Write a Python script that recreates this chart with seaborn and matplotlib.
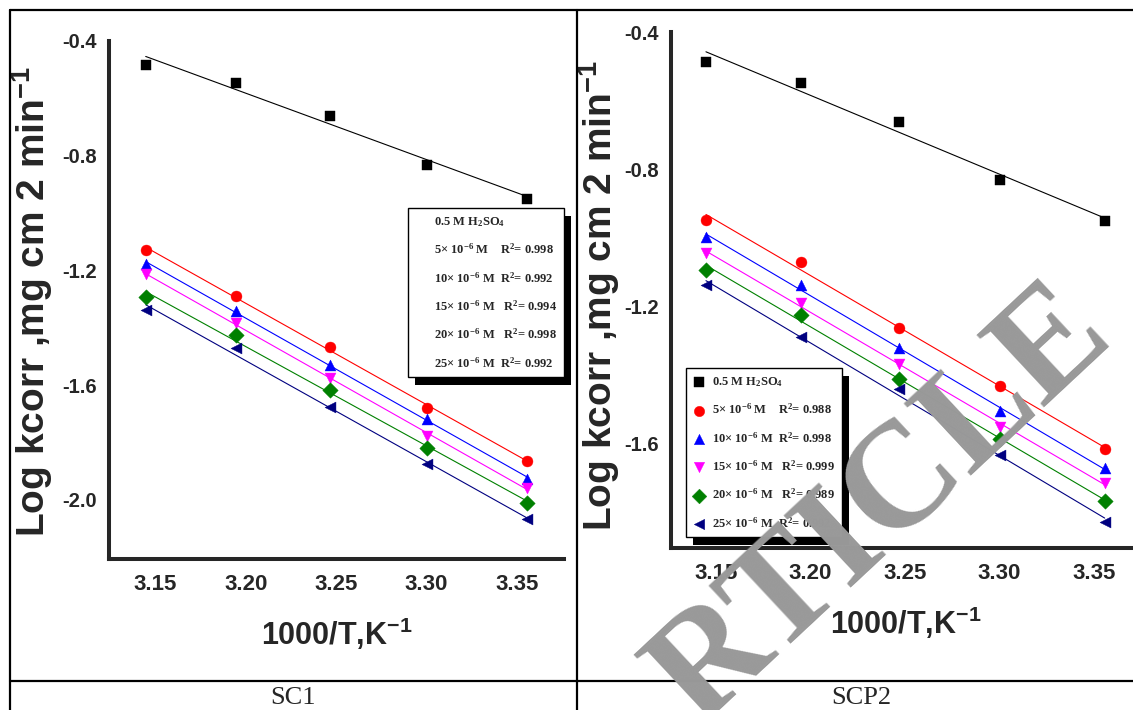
import matplotlib
matplotlib.use("Agg")
import matplotlib.pyplot as plt
import seaborn as sns
from matplotlib import font_manager
from matplotlib.lines import Line2D
from matplotlib.patches import Rectangle
from matplotlib.ticker import AutoMinorLocator

# 1000/T for 318, 313, 308, 303, 298 K
inv_t = [3.1447, 3.1949, 3.2468, 3.3003, 3.3557]

# SC1 panel, log kcorr
sc1_blank = [-0.483, -0.546, -0.661, -0.831, -0.950]
sc1_5 = [-1.127, -1.290, -1.468, -1.680, -1.864]
sc1_10 = [-1.176, -1.343, -1.530, -1.718, -1.927]
sc1_15 = [-1.214, -1.384, -1.575, -1.777, -1.958]
sc1_20 = [-1.294, -1.426, -1.617, -1.819, -2.010]
sc1_25 = [-1.339, -1.471, -1.676, -1.875, -2.066]

# SCP2 panel, log kcorr
scp2_blank = [-0.487, -0.549, -0.662, -0.831, -0.950]
scp2_5 = [-0.948, -1.070, -1.262, -1.431, -1.615]
scp2_10 = [-0.997, -1.137, -1.320, -1.504, -1.670]
scp2_15 = [-1.044, -1.189, -1.367, -1.550, -1.714]
scp2_20 = [-1.093, -1.224, -1.410, -1.585, -1.766]
scp2_25 = [-1.136, -1.287, -1.440, -1.632, -1.827]

conc = ["5", "10", "15", "20", "25"]
sc1_r2 = ["0.998", "0.992", "0.994", "0.998", "0.992"]
scp2_r2 = ["0.988", "0.998", "0.999", "0.989", "0.992"]
gaps = ["   ", " ", "  ", "  ", " "]

colors = ["black", "#FF0000", "#0000FF", "#FF00FF", "#008000", "#000080"]
markers = ["s", "o", "^", "v", "D", "<"]

sns.set_style("white")
names = {f.name for f in font_manager.fontManager.ttflist}
narrow = "Liberation Sans Narrow" if "Liberation Sans Narrow" in names else "Liberation Sans"
plt.rcParams["font.family"] = [narrow, "DejaVu Sans"]
plt.rcParams["font.weight"] = "bold"
plt.rcParams["mathtext.default"] = "regular"
plt.rcParams["axes.unicode_minus"] = False

fig = plt.figure(figsize=(11.33, 7.10), dpi=100)


def make_labels(r2):
    labs = ["0.5 M H$_2$SO$_4$"]
    for c, g, r in zip(conc, gaps, r2):
        labs.append(f"{c}\u00d7 10$^{{-6}}$ M{g} R$^{{2}}$= {r}")
    return labs


def draw_panel(ax, series, labels, ylim, yticks):
    for y, lab, col, mk in zip(series, labels, colors, markers):
        sns.regplot(x=inv_t, y=y, ax=ax, scatter=False, ci=None, color=col,
                    line_kws={"lw": 0.8})
        sns.scatterplot(x=inv_t, y=y, ax=ax, color=col, marker=mk, s=62,
                        edgecolor=col, linewidth=0.3, label=lab, zorder=3)
    ax.set_ylim(*ylim)
    ax.set_xticks([3.15, 3.20, 3.25, 3.30, 3.35])
    ax.set_yticks(yticks)
    ax.xaxis.set_minor_locator(AutoMinorLocator(2))
    ax.yaxis.set_minor_locator(AutoMinorLocator(2))
    ax.tick_params(which="major", direction="out", length=5, width=2.2, pad=6)
    ax.tick_params(which="minor", direction="out", length=1.8, width=2.2)
    ax.tick_params(axis="x", labelsize=16)
    ax.tick_params(axis="y", labelsize=14.5, pad=4)
    for side in ["top", "right"]:
        ax.spines[side].set_visible(False)
    for side in ["left", "bottom"]:
        ax.spines[side].set_linewidth(2.9)
    ax.set_xlabel("1000/T,K$^{-1}$", fontsize=22, fontweight="bold", labelpad=15)
    ax.set_ylabel("Log kcorr ,mg cm 2 min$^{-1}$", fontsize=28, fontweight="bold",
                  family="Liberation Sans")


def add_legend(ax, anchor, show_markers):
    leg = ax.legend(loc="upper left", bbox_to_anchor=anchor, bbox_transform=fig.transFigure,
                    borderaxespad=0, frameon=True, fancybox=False, framealpha=1,
                    edgecolor="black", handlelength=1.0, handletextpad=0.5,
                    labelspacing=1.1, borderpad=0.55, markerscale=0.95,
                    prop={"family": "Liberation Serif", "weight": "bold", "size": 9})
    leg.get_frame().set_linewidth(1.0)
    if not show_markers:
        for h in leg.legend_handles:
            h.set_visible(False)
    fig.canvas.draw()
    bb = leg.get_frame().get_window_extent()
    inv = fig.transFigure.inverted()
    (x0, y0), (x1, y1) = inv.transform([[bb.x0 + 7, bb.y0 - 8], [bb.x1 + 7, bb.y1 - 8]])
    ax.add_patch(Rectangle((x0, y0), x1 - x0, y1 - y0, transform=fig.transFigure,
                           facecolor="black", edgecolor="none", zorder=4.9, clip_on=False))


ax1 = fig.add_axes([109 / 1133, 1 - 559 / 710, 455 / 1133, 518 / 710])
draw_panel(ax1, [sc1_blank, sc1_5, sc1_10, sc1_15, sc1_20, sc1_25], make_labels(sc1_r2),
           (-2.206, -0.4), [-0.4, -0.8, -1.2, -1.6, -2.0])
ax1.set_xlim(3.1244, 3.376)
ax1.yaxis.set_label_coords(-0.118, 0.497)
add_legend(ax1, (408 / 1133, 1 - 208 / 710), False)

ax2 = fig.add_axes([671 / 1133, 1 - 548 / 710, 469 / 1133, 516 / 710])
draw_panel(ax2, [scp2_blank, scp2_5, scp2_10, scp2_15, scp2_20, scp2_25], make_labels(scp2_r2),
           (-1.903, -0.4), [-0.4, -0.8, -1.2, -1.6])
ax2.set_xlim(3.1262, 3.3744)
ax2.yaxis.set_label_coords(-0.104, 0.49)
add_legend(ax2, (686 / 1133, 1 - 368 / 710), True)

# table frame around the two panels
frame_kw = dict(color="black", lw=1.6, transform=fig.transFigure)
fig.add_artist(Line2D([10 / 1133, 1], [1 - 10 / 710, 1 - 10 / 710], **frame_kw))
fig.add_artist(Line2D([10 / 1133, 10 / 1133], [0, 1 - 10 / 710], **frame_kw))
fig.add_artist(Line2D([577 / 1133, 577 / 1133], [0, 1 - 10 / 710], **frame_kw))
fig.add_artist(Line2D([10 / 1133, 1], [1 - 681 / 710, 1 - 681 / 710], **frame_kw))
fig.text(293 / 1133, 1 - 698 / 710, "SC1", ha="center", va="center", fontsize=19,
         family="Liberation Serif", fontweight="normal")
fig.text(861 / 1133, 1 - 698 / 710, "SCP2", ha="center", va="center", fontsize=19,
         family="Liberation Serif", fontweight="normal")

# retraction watermark
fig.text(882 / 1133, 1 - 506 / 710, "RTICLE", rotation=43, ha="center", va="center",
         fontsize=108, family="Liberation Serif", fontweight="bold", color="#999999",
         zorder=10)

fig.savefig("out.png", dpi=100)
